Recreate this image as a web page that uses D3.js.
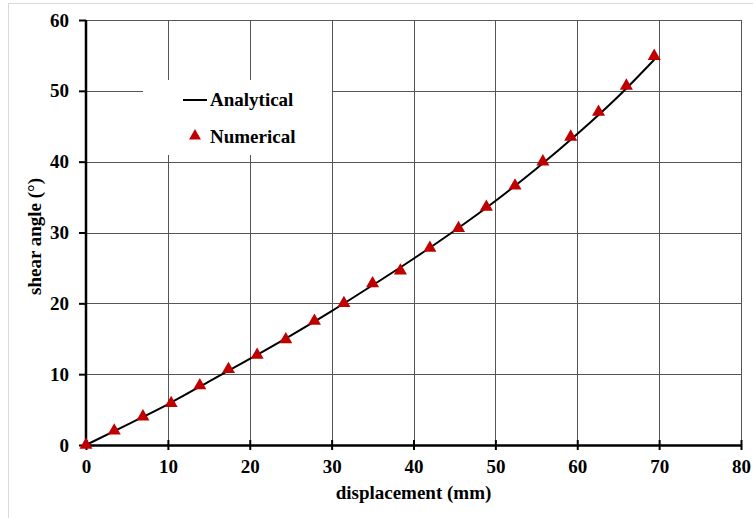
<!DOCTYPE html>
<html>
<head>
<meta charset="utf-8">
<script src="https://cdn.jsdelivr.net/npm/d3@7"></script>
<style>
  body { margin: 0; background: #fff; }
  text { font-family: "Liberation Serif", "Times New Roman", serif; font-weight: bold; fill: #000; }
</style>
</head>
<body>
<svg id="chart"></svg>
<script>
// Chart size and layout
const WIDTH = 753;
const HEIGHT = 518;
const PLOT = { left: 86, right: 741, top: 20, bottom: 445 };

// Numerical results (triangles)
const numX = [0, 3.45, 6.95, 10.4, 13.9, 17.4, 20.9, 24.4, 27.9, 31.5, 35.0, 38.4, 42.0, 45.5, 48.9, 52.4, 55.8, 59.2, 62.6, 66.0, 69.4];
const numY = [0, 2.0, 4.0, 5.9, 8.4, 10.7, 12.7, 14.9, 17.5, 20.0, 22.8, 24.6, 27.8, 30.6, 33.6, 36.6, 40.0, 43.5, 47.0, 50.7, 54.9];

// Analytical curve
const anaX = [0, 5, 10, 15, 20, 25, 30, 35, 40, 45, 50, 55, 60, 65, 69.4];
const anaY = [0, 2.85, 5.75, 8.95, 12.15, 15.45, 18.9, 22.55, 26.3, 30.25, 34.45, 39.0, 43.9, 49.2, 54.4];

// Axis ticks
const xTicks = [0, 10, 20, 30, 40, 50, 60, 70, 80];
const yTicks = [0, 10, 20, 30, 40, 50, 60];

const svg = d3.select("#chart")
    .attr("width", WIDTH)
    .attr("height", HEIGHT);

// outer frame
svg.append("rect")
    .attr("x", 8.5).attr("y", 3.5)
    .attr("width", 760).attr("height", 530)
    .attr("fill", "#fff")
    .attr("stroke", "#d9d9d9");

const x = d3.scaleLinear().domain([0, 80]).range([PLOT.left, PLOT.right]);
const y = d3.scaleLinear().domain([0, 60]).range([PLOT.bottom, PLOT.top]);

// grid lines
svg.append("g")
    .selectAll("line")
    .data(xTicks.slice(1))
    .join("line")
    .attr("x1", d => Math.round(x(d)) + 0.5).attr("x2", d => Math.round(x(d)) + 0.5)
    .attr("y1", PLOT.top).attr("y2", PLOT.bottom)
    .attr("stroke", "#555").attr("stroke-width", 1);

svg.append("g")
    .selectAll("line")
    .data(yTicks.slice(1))
    .join("line")
    .attr("x1", PLOT.left).attr("x2", PLOT.right)
    .attr("y1", d => Math.round(y(d)) + 0.5).attr("y2", d => Math.round(y(d)) + 0.5)
    .attr("stroke", "#555").attr("stroke-width", 1);

// legend box (covers grid)
svg.append("rect")
    .attr("x", 143).attr("y", 80)
    .attr("width", 189).attr("height", 75)
    .attr("fill", "#fff");

// axes
const xAxis = d3.axisBottom(x).tickValues(xTicks).tickSize(0).tickPadding(15);
const gx = svg.append("g").attr("transform", `translate(0,${PLOT.bottom})`).call(xAxis);
gx.select(".domain").attr("stroke", "#000").attr("stroke-width", 2.5);
gx.selectAll(".tick text").style("font-size", "19px").attr("dy", "0.7em");
gx.selectAll(".tick").append("line")
    .attr("y1", -5).attr("y2", 5)
    .attr("stroke", "#000").attr("stroke-width", 2);

const yAxis = d3.axisLeft(y).tickValues(yTicks).tickSize(7).tickPadding(10);
const gy = svg.append("g").attr("transform", `translate(${PLOT.left},0)`).call(yAxis);
gy.select(".domain").attr("stroke", "#000").attr("stroke-width", 2.5).attr("d", `M0,${PLOT.bottom}V${PLOT.top}`);
gy.selectAll(".tick line").attr("stroke", "#000").attr("stroke-width", 2);
gy.selectAll(".tick text").style("font-size", "19px");

// axis titles
svg.append("text")
    .attr("x", (PLOT.left + PLOT.right) / 2)
    .attr("y", 499)
    .attr("text-anchor", "middle")
    .style("font-size", "19px")
    .text("displacement (mm)");

svg.append("text")
    .attr("transform", `translate(41,${(PLOT.top + PLOT.bottom) / 2 + 4}) rotate(-90)`)
    .attr("text-anchor", "middle")
    .style("font-size", "19px")
    .text("shear angle (°)");

// analytical line
const line = d3.line()
    .x(d => x(d[0]))
    .y(d => y(d[1]))
    .curve(d3.curveMonotoneX);

svg.append("path")
    .datum(anaX.map((v, i) => [v, anaY[i]]))
    .attr("d", line)
    .attr("fill", "none")
    .attr("stroke", "#000")
    .attr("stroke-width", 2);

// numerical triangles
const tri = d3.symbol().type(d3.symbolTriangle).size(74);
svg.append("g")
    .selectAll("path")
    .data(numX.map((v, i) => [v, numY[i]]))
    .join("path")
    .attr("d", tri)
    .attr("transform", d => `translate(${x(d[0])},${y(d[1])})`)
    .attr("fill", "#c00000");

// legend
svg.append("line")
    .attr("x1", 183).attr("x2", 207)
    .attr("y1", 100).attr("y2", 100)
    .attr("stroke", "#000").attr("stroke-width", 2);
svg.append("text")
    .attr("x", 210).attr("y", 106)
    .style("font-size", "19px")
    .text("Analytical");

svg.append("path")
    .attr("d", d3.symbol().type(d3.symbolTriangle).size(62))
    .attr("transform", "translate(195,136)")
    .attr("fill", "#c00000");
svg.append("text")
    .attr("x", 210).attr("y", 143)
    .style("font-size", "19px")
    .text("Numerical");
</script>
</body>
</html>
